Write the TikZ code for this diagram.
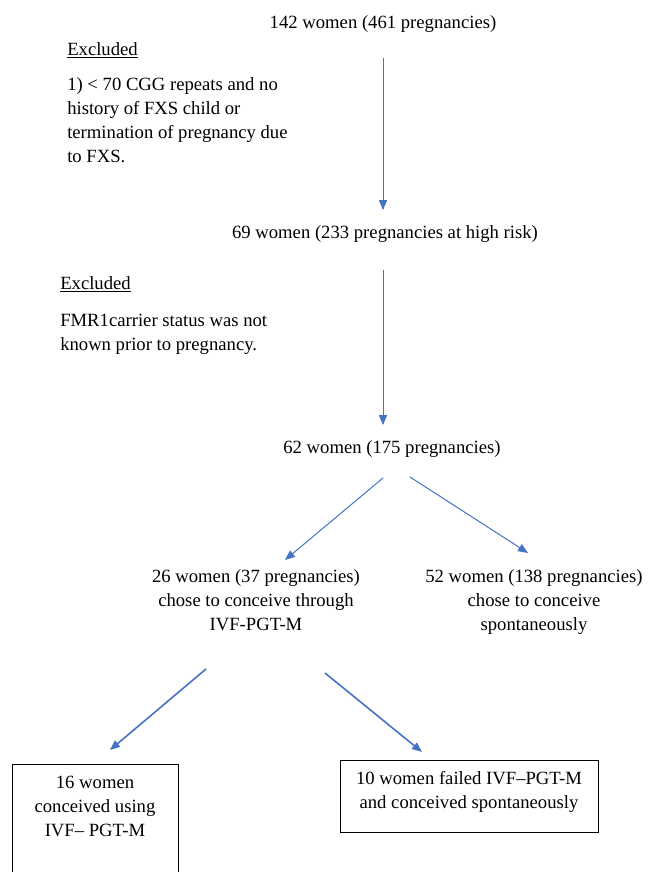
\documentclass[tikz,border=0pt]{standalone}
\usepackage{fontspec}
\setmainfont{LiberationSerif}[Extension=.ttf, UprightFont=*-Regular]
\usetikzlibrary{arrows.meta}
\definecolor{flowblue}{RGB}{68,114,196}
\tikzset{
  txt/.style={font=\fontsize{14}{18}\selectfont, inner sep=0pt, anchor=base},
  flow/.style={-{Triangle[length=7.5pt,width=6pt]}, flowblue, line width=0.75pt},
  flowthick/.style={flow, line width=1.2pt},
  outbox/.style={draw, line width=0.75pt}
}
\begin{document}
\begin{tikzpicture}[x=0.75pt, y=-0.75pt]
 \useasboundingbox (0,0) rectangle (650,872);

 %level 1 (multi-line nodes sit on their last baseline)
 \node[txt] (w142) at (383, 28) {142 women (461 pregnancies)};
 \node[txt, anchor=base west] (exA) at (67, 55) {\underline{Excluded}};
 \node[txt, anchor=base west, align=left] (exAtxt) at (67, 162)
   {1) < 70 CGG repeats and no\\history of FXS child or\\termination of pregnancy due\\to FXS.};

 %level 2
 \node[txt] (w69) at (385, 238) {69 women (233 pregnancies at high risk)};
 \node[txt, anchor=base west] (exB) at (60, 289) {\underline{Excluded}};
 \node[txt, anchor=base west, align=left] (exBtxt) at (60, 350)
   {FMR1carrier status was not\\known prior to pregnancy.};

 %level 3
 \node[txt] (w62) at (392, 453) {62 women (175 pregnancies)};

 %level 4
 \def\dy{630}
 \node[txt, align=center] (w26) at (256, \dy)
   {26 women (37 pregnancies)\\chose to conceive through\\IVF-PGT-M};
 \node[txt, align=center] (w52) at (534, \dy)
   {52 women (138 pregnancies)\\chose to conceive\\spontaneously};

 %level 5 (boxes)
 \draw[outbox] (12, 880) |- (178, 764) -- (178, 880);
 \node[txt, align=center] (w16) at (95, 836)
   {16 women\\conceived using\\IVF-- PGT-M};
 \draw[outbox] (340, 760) rectangle (598, 832);
 \node[txt, align=center] (w10) at (469, 808)
   {10 women failed IVF--PGT-M\\and conceived spontaneously};

 %arrow ends
 \foreach \name/\x/\y in {a62l/383/478, a62r/410/477, b26l/285/560, b52/528/553,
                          a26l/206/669, a26r/325/673, b16/110/750, b10/422/752} {
   \coordinate (\name) at (\x, \y);
 }

 %arrows
 \draw[flow, shorten <=19.5pt, shorten >=11pt] (w142.south) -- (w142.south |- w69.north);
 \draw[flow, shorten <=21pt, shorten >=11pt] (w69.south -| w142.south) -- (w62.north -| w142.south);
 \draw[flow] (a62l) -- (b26l);
 \draw[flow] (a62r) -- (b52);
 \draw[flowthick] (a26l) -- (b16);
 \draw[flowthick] (a26r) -- (b10);

\end{tikzpicture}
\end{document}
